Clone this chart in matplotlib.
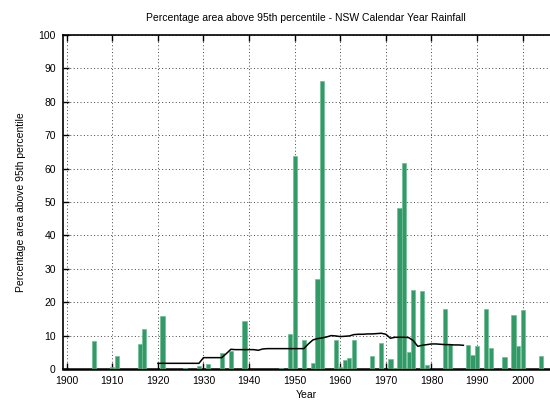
import numpy as np
import matplotlib
matplotlib.use("Agg")
import matplotlib.pyplot as plt

plt.rcParams["font.family"] = ["Liberation Sans", "DejaVu Sans"]

# Годы с ненулевой площадью выше 95-го перцентиля
years = [1906, 1910, 1911, 1916, 1917, 1921, 1926, 1929, 1931, 1934, 1936,
         1939, 1947, 1949, 1950, 1952, 1954, 1955, 1956, 1959, 1960, 1961,
         1962, 1963, 1967, 1969, 1971, 1972, 1973, 1974, 1975, 1976, 1978,
         1979, 1983, 1984, 1988, 1989, 1990, 1992, 1993, 1996, 1998, 1999,
         2000, 2004]
pct_area = [8.5, 0.5, 4.0, 7.5, 12.0, 16.0, 0.3, 1.0, 1.6, 4.8, 5.4,
            14.5, 0.3, 10.6, 63.7, 8.8, 1.8, 27.0, 86.3, 8.8, 0.6, 2.6,
            3.3, 8.8, 3.8, 7.8, 3.1, 0.4, 48.2, 61.8, 5.1, 23.8, 23.5,
            1.3, 18.0, 7.6, 7.3, 4.3, 7.0, 18.0, 6.3, 3.6, 16.3, 7.0,
            17.6, 4.0]

# Скользящее среднее
avg_years = list(range(1920, 1988))
avg_vals = [1.7, 1.7, 1.7, 1.7, 1.7, 1.7, 1.7, 1.7, 1.7, 1.7,
            3.4, 3.4, 3.4, 3.4, 3.4, 4.6, 5.9, 5.8, 5.8, 5.8,
            5.8, 5.8, 5.6, 6.0, 6.1, 6.1, 6.1, 6.1, 6.1, 6.1,
            6.1, 6.1, 6.1, 7.5, 8.7, 9.1, 9.3, 9.6, 10.0, 9.9,
            9.7, 9.8, 9.9, 10.3, 10.4, 10.4, 10.5, 10.5, 10.6, 10.7,
            10.4, 9.2, 9.5, 9.5, 9.5, 9.4, 8.5, 6.8, 7.1, 7.3,
            7.5, 7.5, 7.4, 7.3, 7.3, 7.2, 7.2, 7.1]

fig = plt.figure(figsize=(5.5, 4.01), dpi=100)
ax = fig.add_axes([0.114, 0.0798, 0.886, 0.8329])

ax.bar(years, pct_area, width=0.92, color="#339966",
       edgecolor="#6cbf94", linewidth=0.5, zorder=3)
ax.plot(avg_years, avg_vals, color="black", linewidth=1.1, zorder=4)

ax.set_xlim(1899.12, 2006.0)
ax.set_ylim(0, 100)
ax.set_xticks(np.arange(1900, 2001, 10))
ax.set_yticks(np.arange(0, 101, 10))

ax.grid(True, color="#444444", linestyle=(0, (1, 2.5)), linewidth=0.7, zorder=1)
ax.tick_params(direction="in", length=4, width=1, labelsize=7.5,
               top=True, right=False, pad=5)
ax.spines["right"].set_visible(False)
ax.spines["bottom"].set_linewidth(1.8)
ax.spines["left"].set_linewidth(1.2)
ax.spines["top"].set_linewidth(1.2)

ax.set_title("Percentage area above 95th percentile - NSW Calendar Year Rainfall",
             fontsize=7.5, pad=10)
ax.set_xlabel("Year", fontsize=7.5, labelpad=3)
ax.set_ylabel("Percentage area above 95th percentile", fontsize=7.5, labelpad=9)

fig.savefig("out.png", dpi=100)
